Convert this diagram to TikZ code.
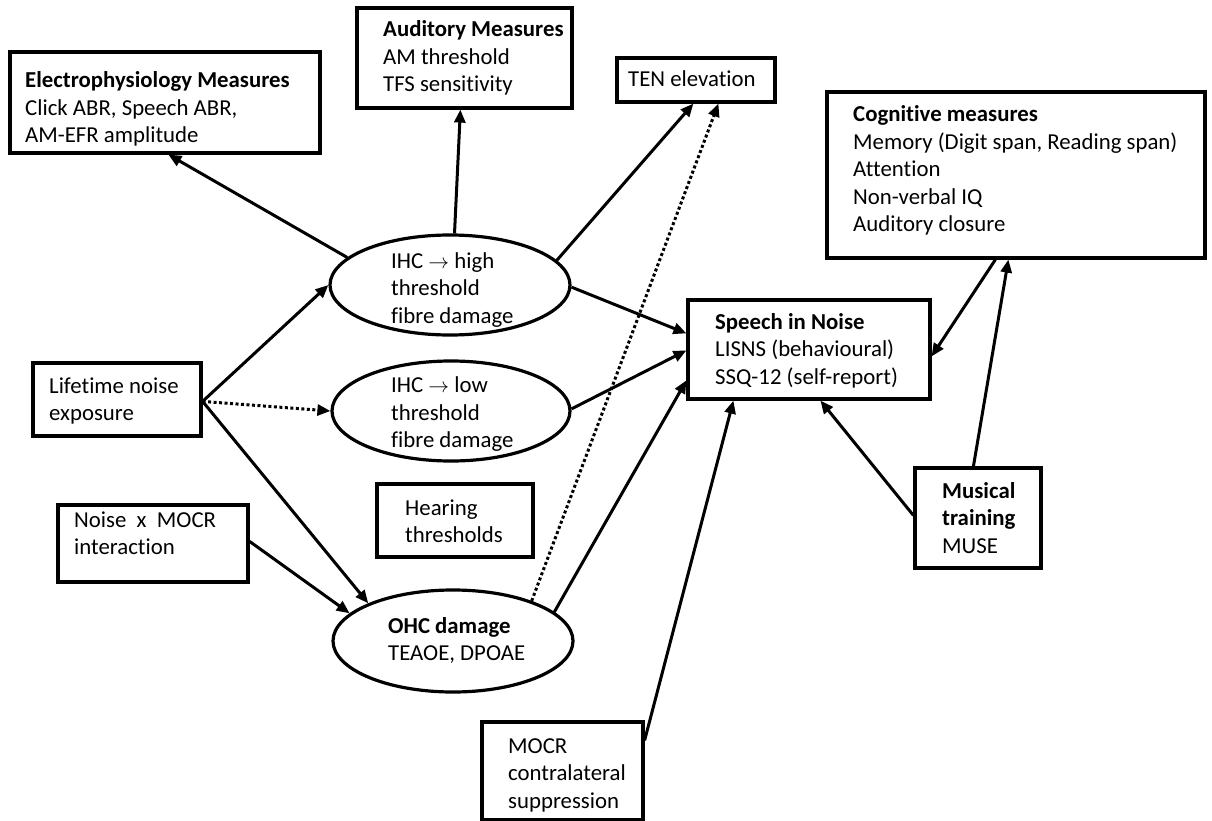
\documentclass[tikz,border=0pt]{standalone}
\usepackage{fontspec}
\setmainfont{Carlito}[Ligatures=NoCommon]
\usetikzlibrary{arrows.meta,shapes.geometric,calc}
% left-aligned block of lines whose baseline is the first line
\newcommand\stack[1]{\begin{tabular}[t]{@{}l@{}}#1\end{tabular}}

\begin{document}
\begin{tikzpicture}[x=1pt,y=-1pt,
  box/.style={draw,line width=3.2pt,inner sep=0pt},
  oval/.style={draw,ellipse,line width=3.2pt,inner sep=0pt},
  txt/.style={anchor=base west,inner sep=0pt,font=\fontsize{22.8}{27.5}\selectfont},
  arr/.style={line width=3pt,-{Triangle[length=13pt,width=11pt]}},
  dotarr/.style={arr,dash pattern=on 3pt off 2.5pt},
]
\useasboundingbox (0,0) rectangle (1212,821);
\fill[white] (0,0) rectangle (1212,821);

% ---- boxes ----
\node[box,minimum width=310pt,minimum height=101pt] (elec) at (165,102.5) {};
\node[txt] (elec-t) at (25,88) {\stack{\textbf{Electrophysiology Measures}\\Click ABR, Speech ABR,\\AM-EFR amplitude}};

\node[box,minimum width=215pt,minimum height=100pt] (aud) at (464.5,58) {};
\node[txt] (aud-t) at (383,37) {\stack{\textbf{Auditory Measures}\\AM threshold\\TFS sensitivity}};

\node[box,minimum width=158pt,minimum height=44pt] (ten) at (696,80) {};
\node[txt] (ten-t) at (628,87) {TEN elevation};

\node[box,minimum width=378pt,minimum height=166pt] (cog) at (1016,175) {};
\node[txt] (cog-t) at (853,122) {\stack{\textbf{Cognitive measures}\\Memory (Digit span, Reading span)\\Attention\\Non-verbal IQ\\Auditory closure}};

\node[box,minimum width=242pt,minimum height=99pt] (sin) at (809,349.5) {};
\node[txt] (sin-t) at (715,329) {\stack{\textbf{Speech in Noise}\\LISNS (behavioural)\\SSQ-12 (self-report)}};

\node[box,minimum width=168pt,minimum height=73pt] (life) at (117,399.5) {};
\node[txt] (life-t) at (49,393) {\stack{Lifetime noise\\exposure}};

\node[box,minimum width=190pt,minimum height=77pt] (nmocr) at (153,543.5) {};
\node[txt] (nmocr-t) at (74,527) {\stack{Noise\ \ x\ \ MOCR\\interaction}};

\node[box,minimum width=156pt,minimum height=73pt] (hear) at (455,520.5) {};
\node[txt] (hear-t) at (405,515) {\stack{Hearing\\thresholds}};

\node[box,minimum width=161pt,minimum height=97.5pt] (mocr) at (562.5,770.75) {};
\node[txt] (mocr-t) at (508,753) {\stack{MOCR\\contralateral\\suppression}};

\node[box,minimum width=126pt,minimum height=100pt] (mus) at (978,518) {};
\node[txt] (mus-t) at (942,498) {\stack{\textbf{Musical}\\\textbf{training}\\MUSE}};

% ---- ellipses ----
\node[oval,minimum width=240pt,minimum height=100pt] (ihch) at (450,285) {};
\node[txt] (ihch-t) at (391,268) {\stack{IHC $\rightarrow$ high\\threshold\\fibre damage}};

\node[oval,minimum width=238pt,minimum height=100pt] (ihcl) at (451,411) {};
\node[txt] (ihcl-t) at (391,392.5) {\stack{IHC $\rightarrow$ low\\threshold\\fibre damage}};

\node[oval,minimum width=240pt,minimum height=102pt] (ohc) at (453,641) {};
\node[txt] (ohc-t) at (388,633) {\stack{\textbf{OHC damage}\\TEAOE, DPOAE}};

% ---- connectors ----
\draw[arr] (ihch.165) -- ($(elec.south west)+(160,0)$);
\draw[arr] (ihch.85) -- ($(aud.south west)+(105,0)$);
\draw[arr] (ihch.13) -- ($(ten.south west)+(78,0)$);
\draw[dotarr] (ohc.27) -- ($(ten.south west)+(103,0)$);
\draw[arr] (ihch.-1) -- ($(sin.north west)+(0,35)$);
\draw[arr] (ihcl.1) -- ($(sin.north west)+(0,52)$);
\draw[arr] (ohc.16) -- ($(sin.north west)+(0,82)$);
\draw[arr] ($(mocr.north east)+(0,20)$) -- ($(sin.south west)+(47,0)$);
\draw[arr] ($(mus.north west)+(0,49)$) -- ($(sin.south west)+(134,0)$);
\draw[arr] ($(mus.north west)+(60,0)$) -- ($(cog.south west)+(183,0)$);
\draw[arr] ($(cog.south west)+(170,0)$) -- ($(sin.north east)+(0,58)$);

\coordinate (lifeout) at ($(life.north east)+(0,40)$);
\draw[arr] (lifeout) -- (ihch.west);
\draw[dotarr] (lifeout) -- (ihcl.west);
\draw[arr] (lifeout) -- (ohc.156);
\draw[arr] ($(nmocr.north east)+(0,38)$) -- (ohc.165);
\end{tikzpicture}
\end{document}
